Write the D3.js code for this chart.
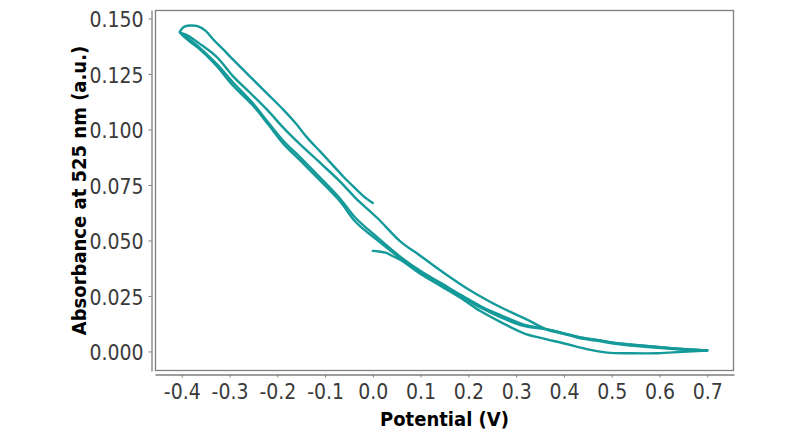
<!DOCTYPE html>
<html>
<head>
<meta charset="utf-8">
<script src="https://cdn.jsdelivr.net/npm/d3@7"></script>
<style>
  html, body { margin: 0; padding: 0; background: #ffffff; }
  svg { display: block; }
  .tick text { font-family: "DejaVu Sans Condensed", "DejaVu Sans", sans-serif; font-stretch: condensed; }
  .title { font-family: "DejaVu Sans Condensed", "DejaVu Sans", sans-serif; font-stretch: condensed; font-weight: bold; }
</style>
</head>
<body>
<svg id="chart" width="800" height="438"></svg>
<script>
// ---- data: [potential (V), absorbance at 525 nm (a.u.)] ----
const scan1 = [ // initial anodic sweep 0.0 -> 0.7 V
  [0.000,0.0453],[0.012,0.0450],[0.027,0.0445],[0.041,0.0430],[0.058,0.0412],
  [0.100,0.0349],[0.142,0.0295],[0.184,0.0241],[0.225,0.0182],[0.267,0.0133],
  [0.315,0.0083],[0.351,0.0061],[0.399,0.0037],[0.456,0.0007],[0.491,-0.0005],
  [0.539,-0.0008],[0.596,-0.0008],[0.650,-0.0001],[0.700,0.0004]
];
const scan2 = [ // cathodic sweep 0.7 -> -0.4 V
  [0.700,0.0005],[0.644,0.0011],[0.575,0.0024],[0.504,0.0038],[0.477,0.0049],
  [0.435,0.0062],[0.414,0.0073],[0.366,0.0099],[0.315,0.0122],[0.267,0.0164],
  [0.225,0.0205],[0.184,0.0255],[0.142,0.0309],[0.100,0.0362],[0.058,0.0426],
  [0.006,0.0520],[-0.036,0.0601],[-0.068,0.0687],[-0.110,0.0782],[-0.151,0.0872],
  [-0.187,0.0948],[-0.218,0.1029],[-0.252,0.1120],[-0.294,0.1215],[-0.327,0.1295],
  [-0.365,0.1373],[-0.382,0.1403],[-0.396,0.1426],[-0.403,0.1435]
];
const scan3 = [ // anodic sweep -0.4 -> 0.7 V
  [-0.403,0.1435],[-0.390,0.1426],[-0.365,0.1390],[-0.327,0.1327],[-0.292,0.1238],
  [-0.256,0.1163],[-0.221,0.1088],[-0.187,0.1007],[-0.151,0.0930],[-0.110,0.0849],
  [-0.068,0.0764],[-0.036,0.0691],[0.010,0.0600],[0.058,0.0495],[0.100,0.0430],
  [0.152,0.0349],[0.205,0.0273],[0.246,0.0223],[0.288,0.0178],[0.324,0.0142],
  [0.366,0.0097],[0.414,0.0072],[0.435,0.0059],[0.477,0.0046],[0.504,0.0036],
  [0.575,0.0020],[0.644,0.0009],[0.700,0.0004]
];
const scan4 = [ // cathodic sweep 0.7 -> -0.4 V
  [0.700,0.0004],[0.644,0.0012],[0.575,0.0025],[0.504,0.0040],[0.477,0.0050],
  [0.435,0.0063],[0.414,0.0074],[0.366,0.0099],[0.315,0.0115],[0.267,0.0155],
  [0.225,0.0198],[0.184,0.0248],[0.142,0.0302],[0.100,0.0356],[0.058,0.0419],
  [0.006,0.0507],[-0.036,0.0583],[-0.068,0.0674],[-0.110,0.0769],[-0.151,0.0858],
  [-0.187,0.0935],[-0.218,0.1020],[-0.252,0.1110],[-0.294,0.1200],[-0.327,0.1286],
  [-0.365,0.1366],[-0.382,0.1394],[-0.396,0.1419],[-0.404,0.1439]
];
const scan5 = [ // final anodic sweep -0.4 -> 0.0 V
  [-0.404,0.1439],[-0.398,0.1457],[-0.392,0.1465],[-0.382,0.1468],[-0.367,0.1465],
  [-0.350,0.1444],[-0.333,0.1403],[-0.312,0.1358],[-0.292,0.1313],[-0.250,0.1223],
  [-0.218,0.1155],[-0.187,0.1088],[-0.162,0.1029],[-0.137,0.0962],[-0.110,0.0900],
  [-0.082,0.0835],[-0.061,0.0786],[-0.040,0.0741],[-0.020,0.0700],[0.000,0.0669]
];
const scans = [scan1, scan2, scan3, scan4, scan5];

const xTicks = [-0.4,-0.3,-0.2,-0.1,0.0,0.1,0.2,0.3,0.4,0.5,0.6,0.7];
const xTickLabels = ["-0.4","-0.3","-0.2","-0.1","0.0","0.1","0.2","0.3","0.4","0.5","0.6","0.7"];
const yTicks = [0.000,0.025,0.050,0.075,0.100,0.125,0.150];
const yTickLabels = ["0.000","0.025","0.050","0.075","0.100","0.125","0.150"];

const xTitle = "Potential (V)";
const yTitle = "Absorbance at 525 nm (a.u.)";

// ---- layout ----
const panel = {left: 155, right: 734, top: 10, bottom: 371};
const axisGrey = "#7f7f7f";
const lineColor = "#159a9a";

const svg = d3.select("#chart");

const x = d3.scaleLinear().domain([-0.456, 0.756]).range([panel.left, panel.right]);
const y = d3.scaleLinear().domain([-0.0088, 0.1538]).range([panel.bottom, panel.top]);

// panel border
svg.append("rect")
  .attr("x", panel.left + 0.5).attr("y", panel.top + 0.5)
  .attr("width", panel.right - panel.left - 1).attr("height", panel.bottom - panel.top - 1)
  .attr("fill", "#ffffff").attr("stroke", axisGrey).attr("stroke-width", 1.3);

// y axis (offset)
const yAxis = d3.axisLeft(y).tickValues(yTicks)
  .tickFormat((d, i) => yTickLabels[i]).tickSize(3).tickSizeOuter(0).tickPadding(5);
const gy = svg.append("g").attr("transform", `translate(${panel.left - 3.5},0)`).call(yAxis);

// x axis (offset)
const xAxis = d3.axisBottom(x).tickValues(xTicks)
  .tickFormat((d, i) => xTickLabels[i]).tickSize(3).tickSizeOuter(0).tickPadding(5);
const gx = svg.append("g").attr("transform", `translate(0,${panel.bottom + 3.5})`).call(xAxis);

[gx, gy].forEach(g => {
  g.select(".domain").attr("stroke", axisGrey).attr("stroke-width", 1.3);
  g.selectAll(".tick line").attr("stroke", axisGrey).attr("stroke-width", 1);
  g.selectAll(".tick text").attr("fill", "#3a3a3a").style("font-size", "21px");
});
gx.selectAll(".tick text").attr("dy", "0.78em");
gy.selectAll(".tick text").attr("dy", "0.4em");

// lines
const line = d3.line().x(d => x(d[0])).y(d => y(d[1])).curve(d3.curveCatmullRom.alpha(0.5));
svg.append("g").selectAll("path").data(scans).join("path")
  .attr("d", line)
  .attr("fill", "none")
  .attr("stroke", lineColor)
  .attr("stroke-width", 2.4)
  .attr("stroke-linejoin", "round")
  .attr("stroke-linecap", "round");

// titles
svg.append("text").attr("class", "title")
  .attr("x", (panel.left + panel.right) / 2).attr("y", 426)
  .attr("text-anchor", "middle").attr("fill", "#000")
  .style("font-size", "20px").text(xTitle);

svg.append("text").attr("class", "title")
  .attr("transform", `translate(86,${(panel.top + panel.bottom) / 2}) rotate(-90)`)
  .attr("text-anchor", "middle").attr("fill", "#000")
  .style("font-size", "20px").text(yTitle);
</script>
</body>
</html>
